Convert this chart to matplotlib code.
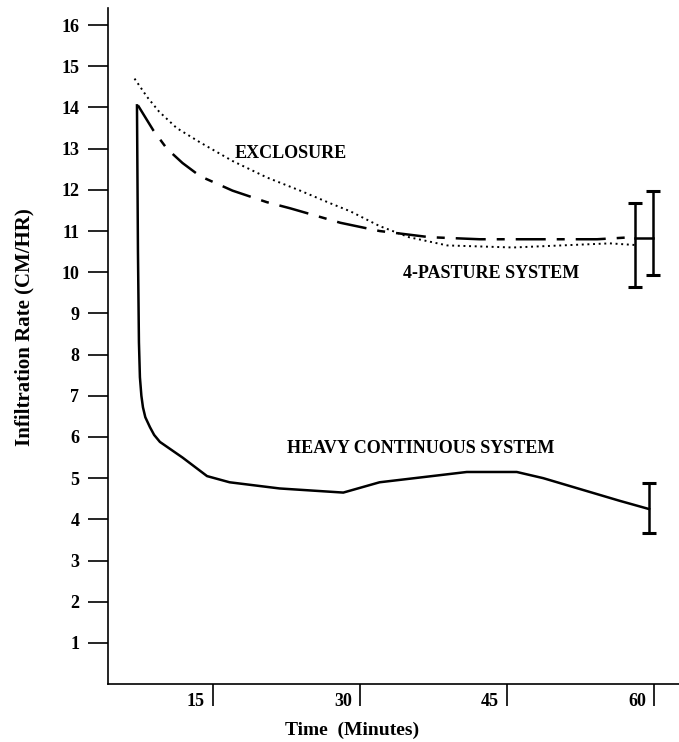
import matplotlib.pyplot as plt

# Infiltration rate (cm/hr) against time (minutes)
heavy_min = [7.25, 7.35, 7.45, 7.55, 7.7, 7.86, 8.1, 8.57, 9.0, 9.59, 11.9,
             14.4, 16.7, 21.8, 28.3, 32.0, 40.9, 46.0, 48.7, 56.5, 59.5]
heavy_rate = [14.05, 10.5, 8.3, 7.45, 7.0, 6.72, 6.48, 6.24, 6.05, 5.88, 5.5,
              5.05, 4.9, 4.75, 4.65, 4.9, 5.15, 5.15, 5.0, 4.45, 4.25]

pasture_min = [7.35, 8.9, 10.3, 11.9, 13.7, 17.0, 20.5, 22.9, 28.0, 32.0,
               37.1, 42.2, 49.1, 54.2, 57.8]
pasture_rate = [14.05, 13.45, 13.0, 12.65, 12.33, 11.98, 11.7, 11.55, 11.2,
                11.0, 10.85, 10.8, 10.8, 10.8, 10.85]

exclosure_min = [7.0, 8.3, 9.5, 11.3, 13.7, 17.0, 20.5, 23.9, 26.9, 29.0,
                 32.0, 35.0, 38.9, 45.6, 55.5, 58.1]
exclosure_rate = [14.7, 14.25, 13.9, 13.5, 13.15, 12.7, 12.3, 11.98, 11.68,
                  11.48, 11.12, 10.85, 10.65, 10.6, 10.7, 10.66]

# end-of-run error bars: exclosure, 4-pasture, heavy continuous
err_min = [58.1, 59.9, 59.5]
err_rate = [10.66, 10.95, 4.27]
err_half = [1.02, 1.02, 0.61]
link_min = [58.1, 59.9]
link_rate = [10.83, 10.83]

x_ticks = [15, 30, 45, 60]
y_ticks = list(range(1, 17))

plt.rcParams['font.family'] = ['Liberation Serif', 'DejaVu Serif']
plt.rcParams['font.weight'] = 'bold'
plt.rcParams['axes.labelweight'] = 'bold'

fig = plt.figure(figsize=(6.79, 7.42), dpi=100)
ax = fig.add_axes([0.159, 0.078, 0.841, 0.911])

ax.plot(heavy_min, heavy_rate, color='black', lw=1.8)
ax.plot(pasture_min, pasture_rate, color='black', lw=1.8,
        dashes=(12, 4.4, 3.2, 4.4))
ax.plot(exclosure_min, exclosure_rate, color='black', lw=1.4,
        linestyle=(0, (1, 1.9)))
ax.plot(link_min, link_rate, color='black', lw=1.8)
ax.errorbar(err_min, err_rate, yerr=err_half, fmt='none', ecolor='black',
            elinewidth=1.8, capsize=4.7, capthick=2.2)

ax.text(17.2, 12.88, 'EXCLOSURE', fontsize=13, ha='left', va='center')
ax.text(34.4, 9.98, '4-PASTURE SYSTEM', fontsize=13, ha='left', va='center')
ax.text(22.6, 5.73, 'HEAVY CONTINUOUS SYSTEM', fontsize=13, ha='left',
        va='center')

ax.set_xlim(4.29, 62.55)
ax.set_ylim(0, 16.41)

for side in ['top', 'right']:
    ax.spines[side].set_visible(False)
for side in ['left', 'bottom']:
    ax.spines[side].set_linewidth(1.2)

ax.set_yticks(y_ticks)
ax.set_yticklabels([str(v) for v in y_ticks], fontsize=13)
ax.tick_params(axis='y', direction='out', length=14.5, width=1.2, pad=6)

# x tick labels sit to the left of their tick marks
ax.set_xticks(x_ticks)
ax.set_xticklabels([])
ax.tick_params(axis='x', direction='out', length=16, width=1.2)
for t in x_ticks:
    ax.annotate(str(t), xy=(t, 0), xycoords=('data', 'axes fraction'),
                xytext=(-5.8, -12.2), textcoords='offset points',
                ha='right', va='center', fontsize=13)

ax.set_xlabel('Time  (Minutes)', fontsize=14)
ax.set_ylabel('Infiltration Rate (CM/HR)', fontsize=15)
ax.yaxis.set_label_coords(-0.128, 0.528)
ax.xaxis.set_label_coords(0.427, -0.055)

fig.savefig('out.png', dpi=100)
